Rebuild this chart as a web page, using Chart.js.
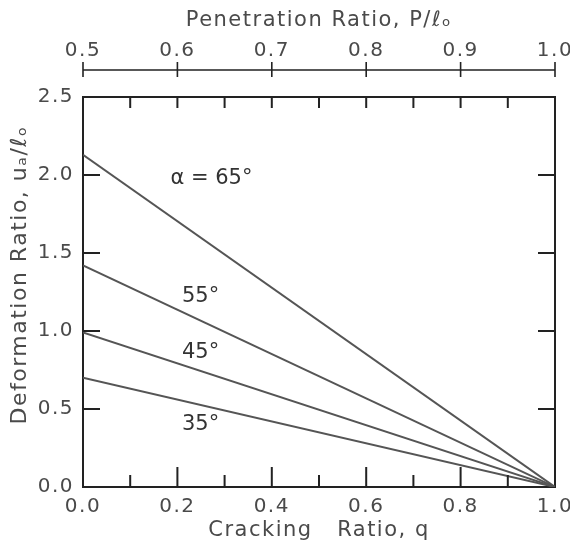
<!DOCTYPE html>
<html>
<head>
<meta charset="utf-8">
<script src="https://cdn.jsdelivr.net/npm/chart.js@4/dist/chart.umd.min.js"></script>
<style>
  html, body { margin: 0; padding: 0; background: #fff; }
  #wrap { width: 570px; height: 550px; }
</style>
</head>
<body>
<div id="wrap"><canvas id="chart"></canvas></div>
<script>
// cracking ratio q (bottom axis) at the two ends of every line
var crackingRatio = [0.0, 1.0];
// deformation ratio u_a / l_o for each crack angle
var alpha65 = [2.13, 0.0];
var alpha55 = [1.42, 0.0];
var alpha45 = [0.99, 0.0];
var alpha35 = [0.70, 0.0];
var angleNames = ["α = 65°", "55°", "45°", "35°"];
// where the angle names sit (q, u_a/l_o)
var nameQ = [0.272, 0.249, 0.249, 0.249];
var nameU = [1.98, 1.22, 0.86, 0.40];

var qTicks = [0.0, 0.2, 0.4, 0.6, 0.8, 1.0];
var qMinor = [0.1, 0.2, 0.3, 0.4, 0.5, 0.6, 0.7, 0.8, 0.9];
var penetrationTicks = [0.5, 0.6, 0.7, 0.8, 0.9, 1.0];
var uTicks = [0.0, 0.5, 1.0, 1.5, 2.0, 2.5];

var ink = "#4a4a4a";
var frame = "#222";
var font = "'DejaVu Sans', sans-serif";

function pts(ys) {
  return crackingRatio.map(function(q, i) { return {x: q, y: ys[i]}; });
}
function lineSet(ys) {
  return {data: pts(ys), borderColor: "#555", borderWidth: 2, pointRadius: 0, fill: false, tension: 0};
}
// chart area is set by hand, drop the label overhang padding
function noOverhang(s) { s.paddingLeft = 0; s.paddingRight = 0; }

var spacing = {
  id: "spacing",
  beforeDraw: function(chart) { chart.ctx.letterSpacing = "1.5px"; }
};

var decor = {
  id: "decor",
  afterDraw: function(chart) {
    var ctx = chart.ctx, a = chart.chartArea;
    var x = chart.scales.x, y = chart.scales.y, p = chart.scales.x2;
    ctx.save();
    ctx.strokeStyle = frame;
    ctx.lineWidth = 2;
    ctx.beginPath();
    // top frame edge
    ctx.moveTo(a.left - 1, a.top); ctx.lineTo(a.right + 1, a.top);
    // inner ticks on the box
    qMinor.forEach(function(q, i) {
      var px = x.getPixelForValue(q);
      var major = i % 2 === 1;
      ctx.moveTo(px, a.bottom); ctx.lineTo(px, a.bottom - (major ? 20 : 12));
      ctx.moveTo(px, a.top); ctx.lineTo(px, a.top + 11);
    });
    uTicks.slice(1, -1).forEach(function(u) {
      var py = y.getPixelForValue(u);
      ctx.moveTo(a.left, py); ctx.lineTo(a.left + 17, py);
      ctx.moveTo(a.right, py); ctx.lineTo(a.right - 17, py);
    });
    ctx.stroke();
    // separate penetration-ratio axis above the box
    var ly = 70;
    ctx.lineWidth = 1.6;
    ctx.beginPath();
    ctx.moveTo(p.getPixelForValue(penetrationTicks[0]), ly);
    ctx.lineTo(p.getPixelForValue(penetrationTicks[penetrationTicks.length - 1]), ly);
    penetrationTicks.forEach(function(v) {
      var px = p.getPixelForValue(v);
      ctx.moveTo(px, ly - 8); ctx.lineTo(px, ly + 7);
    });
    ctx.stroke();
    // angle names
    ctx.letterSpacing = "0px";
    ctx.fillStyle = "#333";
    ctx.font = "21px " + font;
    ctx.textAlign = "center";
    ctx.textBaseline = "middle";
    angleNames.forEach(function(t, i) {
      ctx.fillText(t, x.getPixelForValue(nameQ[i]), y.getPixelForValue(nameU[i]));
    });
    ctx.restore();
  }
};

var tickFont = {family: font, size: 20};
var titleFont = {family: font, size: 21};

new Chart(document.getElementById("chart"), {
  type: "line",
  data: {
    datasets: [lineSet(alpha65), lineSet(alpha55), lineSet(alpha45), lineSet(alpha35)]
  },
  options: {
    responsive: true,
    maintainAspectRatio: false,
    animation: false,
    events: [],
    layout: {padding: {left: 0, right: 15, top: 0, bottom: 0}},
    plugins: {legend: {display: false}, tooltip: {enabled: false}},
    scales: {
      x: {
        type: "linear", position: "bottom", min: 0, max: 1,
        afterBuildTicks: function(s) { s.ticks = qTicks.map(function(v) { return {value: v}; }); },
        ticks: {color: ink, font: tickFont, padding: 8, maxRotation: 0,
          callback: function(v) { return v.toFixed(1); }},
        grid: {display: false, drawTicks: false},
        border: {display: true, color: frame, width: 2},
        title: {display: true, text: "Cracking   Ratio, q", color: ink, font: titleFont,
          padding: {top: 0, bottom: 7}},
        afterFit: function(s) { s.height = 63; noOverhang(s); }
      },
      x2: {
        type: "linear", position: "top", min: 0.5, max: 1.0,
        afterBuildTicks: function(s) { s.ticks = penetrationTicks.map(function(v) { return {value: v}; }); },
        ticks: {color: ink, font: tickFont, padding: 34, maxRotation: 0,
          callback: function(v) { return v.toFixed(1); }},
        grid: {display: false, drawTicks: false},
        border: {display: false},
        title: {display: true, text: "Penetration Ratio, P/ℓₒ", color: ink, font: titleFont,
          padding: {top: 8, bottom: 0}},
        afterFit: function(s) { s.height = 97; noOverhang(s); }
      },
      y: {
        type: "linear", position: "left", min: 0, max: 2.5,
        afterBuildTicks: function(s) { s.ticks = uTicks.map(function(v) { return {value: v}; }); },
        ticks: {color: ink, font: tickFont, padding: 9,
          callback: function(v) { return v.toFixed(1); }},
        grid: {display: false, drawTicks: false},
        border: {display: true, color: frame, width: 2},
        title: {display: true, text: "    Deformation Ratio, uₐ/ℓₒ", color: ink,
          font: {family: font, size: 22}, padding: {top: 7, bottom: 0}},
        afterFit: function(s) { s.width = 83; }
      },
      y2: {
        type: "linear", position: "right", min: 0, max: 2.5,
        ticks: {display: false},
        grid: {display: false, drawTicks: false},
        border: {display: true, color: frame, width: 2},
        afterFit: function(s) { s.width = 0; }
      }
    }
  },
  plugins: [spacing, decor]
});
</script>
</body>
</html>
